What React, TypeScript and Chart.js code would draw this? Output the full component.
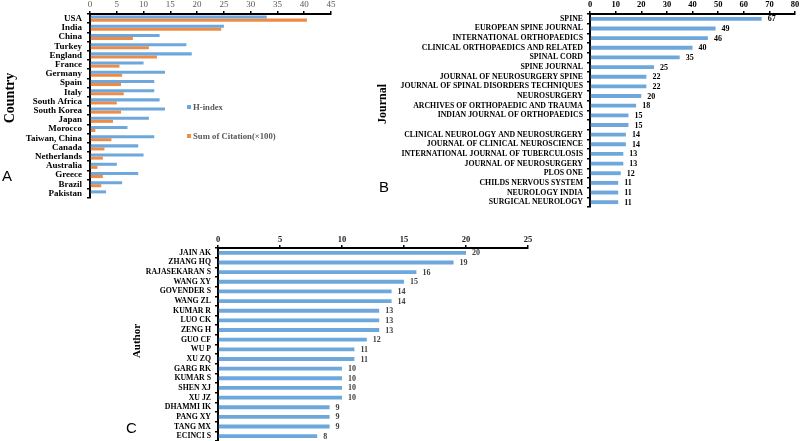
import React, { useEffect, useRef } from 'react';
import { Chart, registerables } from 'chart.js';

Chart.register(...registerables);

// ---------- DATA ----------
const countries = ['USA', 'India', 'China', 'Turkey', 'England', 'France', 'Germany', 'Spain', 'Italy', 'South Africa', 'South Korea', 'Japan', 'Morocco', 'Taiwan, China', 'Canada', 'Netherlands', 'Australia', 'Greece', 'Brazil', 'Pakistan'];
const countryHIndex = [33, 25, 13, 18, 19, 10, 14, 12, 12, 13, 14, 11, 7, 12, 9, 10, 5, 9, 6, 3];
const countryCitations = [40.5, 24.5, 8, 11, 12.5, 5.5, 6, 5.8, 6.3, 5, 5.8, 4.3, 1, 4, 2.7, 2.4, 1.4, 2.4, 2.1, 0];
const countrySeriesNames = ['H-index', 'Sum of Citation(×100)'];

const journals = ['SPINE', 'EUROPEAN SPINE JOURNAL', 'INTERNATIONAL ORTHOPAEDICS', 'CLINICAL ORTHOPAEDICS AND RELATED', 'SPINAL CORD', 'SPINE JOURNAL', 'JOURNAL OF NEUROSURGERY SPINE', 'JOURNAL OF SPINAL DISORDERS TECHNIQUES', 'NEUROSURGERY', 'ARCHIVES OF ORTHOPAEDIC AND TRAUMA', 'INDIAN JOURNAL OF ORTHOPAEDICS', '', 'CLINICAL NEUROLOGY AND NEUROSURGERY', 'JOURNAL OF CLINICAL NEUROSCIENCE', 'INTERNATIONAL JOURNAL OF TUBERCULOSIS', 'JOURNAL OF NEUROSURGERY', 'PLOS ONE', 'CHILDS NERVOUS SYSTEM', 'NEUROLOGY INDIA', 'SURGICAL NEUROLOGY'];
const journalValues = [67, 49, 46, 40, 35, 25, 22, 22, 20, 18, 15, 15, 14, 14, 13, 13, 12, 11, 11, 11];

const authors = ['JAIN AK', 'ZHANG HQ', 'RAJASEKARAN S', 'WANG XY', 'GOVENDER S', 'WANG ZL', 'KUMAR R', 'LUO CK', 'ZENG H', 'GUO CF', 'WU P', 'XU ZQ', 'GARG RK', 'KUMAR S', 'SHEN XJ', 'XU JZ', 'DHAMMI IK', 'PANG XY', 'TANG MX', 'ECINCI S'];
const authorValues = [20, 19, 16, 15, 14, 14, 13, 13, 13, 12, 11, 11, 10, 10, 10, 10, 9, 9, 9, 8];

const axisMaxA = 45, axisStepA = 5;
const axisMaxB = 80, axisStepB = 10;
const axisMaxC = 25, axisStepC = 5;

// ---------- STYLE ----------
const SERIF = "'Liberation Serif', 'Times New Roman', serif";
const SANS = "'Liberation Sans', Arial, sans-serif";
const BLUE = '#6ea7dc';
const ORANGE = '#ef8b45';

const valueLabelPlugin = {
  id: 'valueLabels',
  afterDatasetsDraw(chart: any, _args: any, opts: any) {
    if (!opts || !opts.enabled) return;
    const ctx = chart.ctx;
    ctx.save();
    ctx.font = opts.font;
    ctx.fillStyle = opts.color;
    ctx.textAlign = 'left';
    ctx.textBaseline = 'middle';
    const meta = chart.getDatasetMeta(0);
    meta.data.forEach((bar: any, i: number) => {
      const v = chart.data.datasets[0].data[i];
      ctx.fillText(String(v), bar.x + opts.offset, bar.y + 0.5);
    });
    ctx.restore();
  },
};

type PanelProps = {
  left: number; top: number; width: number; height: number;
  yWidth: number; xHeight: number; padRight: number; padBottom: number;
  labels: string[];
  datasets: any[];
  xMax: number; xStep: number;
  xTickFont: any; xTickColor: string; xTickPad: number;
  yTickFont: any; yTickPad: number;
  catPct: number; barPct: number;
  valueLabels?: any;
};

function BarPanel(p: PanelProps) {
  const ref = useRef<HTMLCanvasElement | null>(null);
  useEffect(() => {
    if (!ref.current) return;
    const chart = new Chart(ref.current, {
      type: 'bar',
      data: {
        labels: p.labels,
        datasets: p.datasets.map((d) => ({
          ...d,
          categoryPercentage: p.catPct,
          barPercentage: p.barPct,
          borderWidth: 0,
        })),
      },
      plugins: [valueLabelPlugin as any],
      options: {
        indexAxis: 'y',
        responsive: false,
        animation: false,
        events: [],
        layout: { padding: { left: 0, top: 0, right: p.padRight, bottom: p.padBottom } },
        plugins: {
          legend: { display: false },
          tooltip: { enabled: false },
          valueLabels: p.valueLabels || { enabled: false },
        } as any,
        scales: {
          x: {
            type: 'linear',
            position: 'top',
            min: 0,
            max: p.xMax,
            ticks: { stepSize: p.xStep, font: p.xTickFont, color: p.xTickColor, padding: p.xTickPad, maxRotation: 0 },
            grid: { drawOnChartArea: false, drawTicks: true, tickLength: 3, color: '#000', lineWidth: 1.5 },
            border: { display: true, color: '#000', width: 2 },
            afterFit: (s: any) => { s.height = p.xHeight; s.paddingLeft = 0; s.paddingRight = 0; },
          },
          y: {
            type: 'category',
            position: 'left',
            ticks: { autoSkip: false, font: p.yTickFont, color: '#000', padding: p.yTickPad },
            grid: { drawOnChartArea: false, drawTicks: true, tickLength: 3, color: '#000', lineWidth: 1.5, offset: true },
            border: { display: true, color: '#000', width: 2 },
            afterFit: (s: any) => { s.width = p.yWidth; s.paddingTop = 0; s.paddingBottom = 0; },
          },
        } as any,
      },
    } as any);
    return () => chart.destroy();
  }, []);
  return (
    <canvas
      ref={ref}
      width={p.width}
      height={p.height}
      style={{ position: 'absolute', left: p.left, top: p.top, width: p.width, height: p.height }}
    />
  );
}

function RotText({ text, cx, cy, size }: { text: string; cx: number; cy: number; size: number }) {
  return (
    <div
      style={{
        position: 'absolute', left: cx, top: cy,
        transform: 'translate(-50%, -50%) rotate(-90deg)',
        fontFamily: SERIF, fontWeight: 'bold', fontSize: size, lineHeight: 1,
        whiteSpace: 'nowrap', color: '#000',
      }}
    >{text}</div>
  );
}

function PanelLetter({ text, x, y }: { text: string; x: number; y: number }) {
  return (
    <div style={{ position: 'absolute', left: x, top: y, fontFamily: SANS, fontSize: 15, lineHeight: 1, color: '#000' }}>{text}</div>
  );
}

export default function App() {
  const legendColors = [BLUE, ORANGE];
  const legendY = [107, 136];
  return (
    <div style={{ position: 'fixed', left: 0, top: 0, width: 800, height: 441, overflow: 'hidden', background: '#fff' }}>
      {/* Panel A */}
      <BarPanel
        left={0} top={0} width={345} height={210}
        yWidth={90} xHeight={14} padRight={14} padBottom={12}
        labels={countries}
        datasets={[
          { label: countrySeriesNames[0], data: countryHIndex, backgroundColor: BLUE },
          { label: countrySeriesNames[1], data: countryCitations, backgroundColor: ORANGE },
        ]}
        xMax={axisMaxA} xStep={axisStepA}
        xTickFont={{ family: SERIF, size: 9 }} xTickColor="#595959" xTickPad={1}
        yTickFont={{ family: SERIF, size: 9, weight: 'bold' }} yTickPad={5}
        catPct={0.66} barPct={1}
      />
      {countrySeriesNames.map((name, i) => (
        <React.Fragment key={name}>
          <div style={{ position: 'absolute', left: 187, top: legendY[i] - 2, width: 4, height: 4, background: legendColors[i] }} />
          <div style={{ position: 'absolute', left: 193, top: legendY[i] - 5, fontFamily: SERIF, fontWeight: 'bold', fontSize: 8.7, lineHeight: '10px', color: '#595959', whiteSpace: 'nowrap' }}>{name}</div>
        </React.Fragment>
      ))}
      <RotText text="Country" cx={10} cy={98} size={14} />
      <PanelLetter text="A" x={2} y={168} />

      {/* Panel B */}
      <BarPanel
        left={370} top={0} width={430} height={215}
        yWidth={220} xHeight={14} padRight={5} padBottom={8}
        labels={journals}
        datasets={[{ label: 'Journal', data: journalValues, backgroundColor: BLUE }]}
        xMax={axisMaxB} xStep={axisStepB}
        xTickFont={{ family: SERIF, size: 8.5, weight: 'bold' }} xTickColor="#000" xTickPad={1}
        yTickFont={{ family: SERIF, size: 7.8, weight: 'bold' }} yTickPad={4}
        catPct={1} barPct={0.4}
        valueLabels={{ enabled: true, font: `bold 8px ${SERIF}`, color: '#000', offset: 6 }}
      />
      <RotText text="Journal" cx={382} cy={104} size={12} />
      <PanelLetter text="B" x={379} y={179} />

      {/* Panel C */}
      <BarPanel
        left={120} top={230} width={420} height={215}
        yWidth={98} xHeight={18} padRight={12} padBottom={4}
        labels={authors}
        datasets={[{ label: 'Author', data: authorValues, backgroundColor: BLUE }]}
        xMax={axisMaxC} xStep={axisStepC}
        xTickFont={{ family: SERIF, size: 8.5, weight: 'bold' }} xTickColor="#222" xTickPad={0}
        yTickFont={{ family: SERIF, size: 7.8, weight: 'bold' }} yTickPad={4}
        catPct={1} barPct={0.4}
        valueLabels={{ enabled: true, font: `bold 8px ${SERIF}`, color: '#404040', offset: 6 }}
      />
      <RotText text="Author" cx={136} cy={341} size={11} />
      <PanelLetter text="C" x={126} y={420} />
    </div>
  );
}
